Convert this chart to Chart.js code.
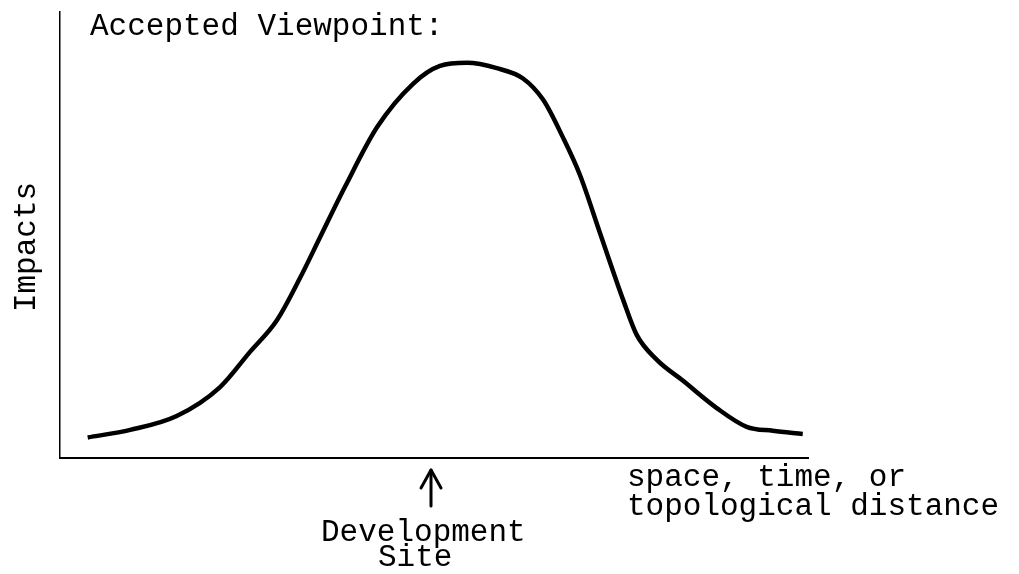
<!DOCTYPE html>
<html>
<head>
<meta charset="utf-8">
<script src="https://cdn.jsdelivr.net/npm/chart.js@4/dist/chart.umd.min.js"></script>
<style>
html,body{margin:0;padding:0;background:#fff;}
#wrap{width:1019px;height:574px;position:relative;}
</style>
</head>
<body>
<div id="wrap"><canvas id="c" width="1019" height="574"></canvas></div>
<script>
// Distance along the x axis (arbitrary units, 0-100)
const distance = [3.7, 9.4, 15.6, 21.4, 25.4, 29.0, 32.1, 34.8, 38.1, 42.4, 47.2, 50.8, 54.4, 58.4, 61.9, 64.6, 67.2, 69.5, 72.2, 75.3, 77.1, 79.8, 83.3, 87.8, 91.8, 95.3, 99.3];
// Impacts (arbitrary units, 0-100)
const impacts = [4.6, 6.3, 9.4, 15.9, 23.8, 30.9, 40.4, 49.6, 60.8, 74.2, 83.9, 87.9, 88.6, 87.4, 85.1, 80.3, 72.0, 63.5, 50.4, 35.4, 27.6, 22.0, 17.3, 11.2, 7.0, 6.1, 5.4];
const siteX = 49.6;
const titleText = "Accepted Viewpoint:";
const yLabel = "Impacts";
const xLabelLines = ["space, time, or", "topological distance"];
const siteLines = ["Development", "Site"];

const FONT = '31px "Liberation Mono", "DejaVu Sans Mono", monospace';

const textPlugin = {
  id: 'texts',
  afterDraw(chart) {
    const ctx = chart.ctx;
    const ca = chart.chartArea;
    const xs = chart.scales.x;
    ctx.save();
    ctx.fillStyle = '#000';
    ctx.strokeStyle = '#000';
    ctx.font = FONT;
    ctx.textBaseline = 'alphabetic';
    ctx.textAlign = 'left';
    ctx.fillText(titleText, ca.left + 30, 35);
    // rotated y label
    ctx.save();
    ctx.translate(35, 247);
    ctx.rotate(-Math.PI / 2);
    ctx.textAlign = 'center';
    ctx.fillText(yLabel, 0, 0);
    ctx.restore();
    // x label
    ctx.fillText(xLabelLines[0], 627, ca.bottom + 28);
    ctx.fillText(xLabelLines[1], 627, ca.bottom + 57);
    // development site arrow
    const ax = xs.getPixelForValue(siteX);
    ctx.lineWidth = 3;
    ctx.lineCap = 'round';
    ctx.lineJoin = 'round';
    ctx.beginPath();
    ctx.moveTo(ax, ca.bottom + 48);
    ctx.lineTo(ax, ca.bottom + 12);
    ctx.stroke();
    ctx.beginPath();
    ctx.moveTo(ax - 10, ca.bottom + 30);
    ctx.lineTo(ax, ca.bottom + 12);
    ctx.lineTo(ax + 10, ca.bottom + 30);
    ctx.stroke();
    ctx.fillText(siteLines[0], ax - 110, ca.bottom + 83);
    ctx.fillText(siteLines[1], ax - 53, ca.bottom + 108);
    ctx.restore();
  }
};

new Chart(document.getElementById('c'), {
  type: 'scatter',
  data: {
    datasets: [{
      data: distance.map((x, i) => ({x: x, y: impacts[i]})),
      showLine: true,
      borderColor: '#000',
      borderWidth: 4.5,
      pointRadius: 0,
      cubicInterpolationMode: 'monotone',
      fill: false
    }]
  },
  options: {
    responsive: false,
    animation: false,
    layout: {padding: {top: 12, right: 211, left: 0, bottom: 0}},
    plugins: {legend: {display: false}, tooltip: {enabled: false}},
    scales: {
      x: {
        type: 'linear', min: 0, max: 100,
        ticks: {display: false},
        grid: {display: false},
        border: {display: true, color: '#000', width: 2},
        afterFit(s) { s.height = 116; }
      },
      y: {
        type: 'linear', min: 0, max: 100,
        ticks: {display: false},
        grid: {display: false},
        border: {display: true, color: '#000', width: 1.5},
        afterFit(s) { s.width = 60; }
      }
    }
  },
  plugins: [textPlugin]
});
</script>
</body>
</html>
